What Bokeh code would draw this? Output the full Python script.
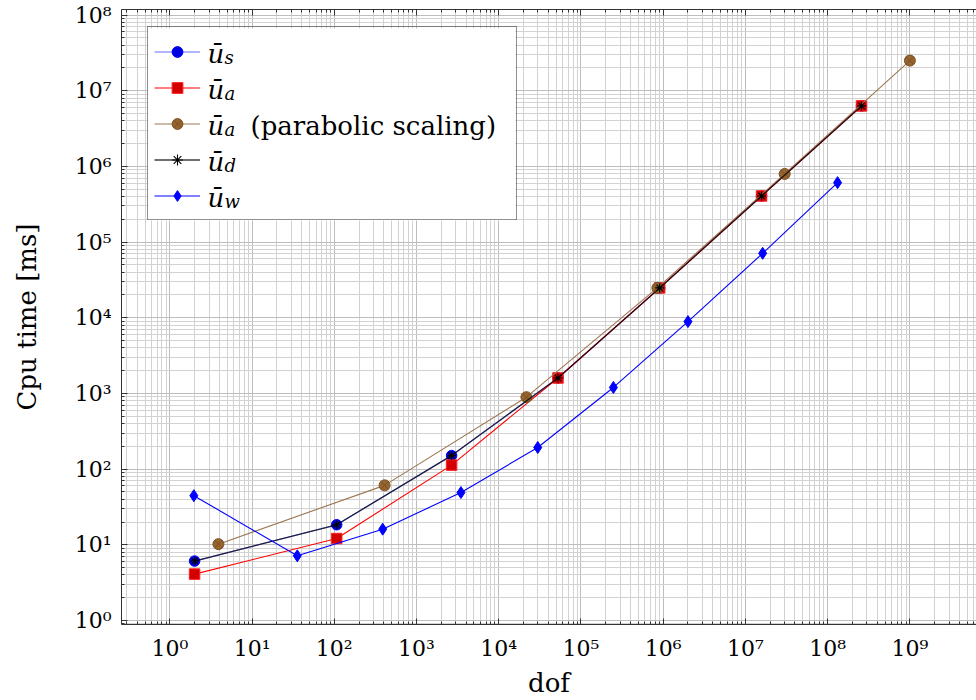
from bokeh.plotting import figure
from bokeh.models import (FixedTicker, LogAxis, Range1d, Legend, LegendItem, Label,
                          BoxAnnotation)
from bokeh.embed import file_html
from bokeh.resources import INLINE

# ---------------- data ----------------
dof_s = [2, 107, 2670, 5.25e4, 9.06e5, 1.57e7, 2.58e8]
cpu_s = [6.1, 18.4, 151, 1.6e3, 2.48e4, 4.07e5, 6.3e6]

dof_a = [2, 107, 2670, 5.25e4, 9.06e5, 1.57e7, 2.58e8]
cpu_a = [4.1, 12.1, 113, 1.6e3, 2.48e4, 4.07e5, 6.3e6]

dof_ap = [3.9, 409, 2.17e4, 8.5e5, 3.0e7, 1.0e9]
cpu_ap = [10.2, 61, 893, 2.48e4, 7.95e5, 2.5e7]

dof_d = [2, 107, 2670, 5.25e4, 9.06e5, 1.57e7, 2.58e8]
cpu_d = [6.1, 18.4, 151, 1.6e3, 2.48e4, 4.07e5, 6.3e6]

dof_w = [1.96, 35.5, 388, 3.47e3, 2.98e4, 2.48e5, 2.0e6, 1.62e7, 1.32e8]
cpu_w = [44.6, 7.15, 16.1, 49, 193, 1.2e3, 8.9e3, 7.1e4, 6.1e5]

x_exponents = list(range(0, 10))
y_exponents = list(range(0, 9))
legend_subscripts = ["s", "a", "a", "d", "w"]
legend_extra = ["", "", "(parabolic scaling)", "", ""]
x_title = "dof"
y_title = "Cpu time [ms]"

SUP = "⁰¹²³⁴⁵⁶⁷⁸⁹"
def sup_label(k):
    return "10" + "".join(SUP[int(c)] for c in str(k))

FONT = "DejaVu Serif"

# ---------------- figure ----------------
p = figure(width=976, height=700, x_axis_type="log", y_axis_type="log",
           x_range=Range1d(10 ** -0.5876, 10 ** 9.81),
           y_range=Range1d(10 ** -0.053, 10 ** 8.073),
           output_backend="svg", toolbar_location=None,
           min_border_left=121, min_border_right=0, min_border_top=9,
           min_border_bottom=76)
p.outline_line_color = None
p.background_fill_color = "white"
p.border_fill_color = "white"

x_major = [10.0 ** k for k in x_exponents]
y_major = [10.0 ** k for k in y_exponents]
x_minor = [m * 10.0 ** k for k in range(-1, 10) for m in range(2, 10)]
y_minor = [m * 10.0 ** k for k in range(-1, 9) for m in range(2, 10)]
xticker = FixedTicker(ticks=x_major, minor_ticks=x_minor)
yticker = FixedTicker(ticks=y_major, minor_ticks=y_minor)

AXC = "#333333"

def style_axis(ax):
    ax.axis_line_color = AXC
    ax.axis_line_width = 1
    ax.major_tick_line_color = AXC
    ax.minor_tick_line_color = AXC
    ax.major_tick_in = 6
    ax.major_tick_out = 0
    ax.minor_tick_in = 3
    ax.minor_tick_out = 0
    ax.major_label_text_font = FONT
    ax.major_label_text_font_size = "22px"
    ax.major_label_text_color = "black"
    ax.axis_label_text_font = FONT
    ax.axis_label_text_font_size = "26px"
    ax.axis_label_text_font_style = "normal"
    ax.axis_label_text_color = "black"

xa = p.xaxis[0]
ya = p.yaxis[0]
xa.ticker = xticker
ya.ticker = yticker
style_axis(xa)
style_axis(ya)
xa.major_label_overrides = {10.0 ** k: sup_label(k) for k in x_exponents}
ya.major_label_overrides = {10.0 ** k: sup_label(k) for k in y_exponents}
xa.axis_label = x_title
ya.axis_label = y_title
xa.major_label_standoff = 11
xa.axis_label_standoff = 4
ya.major_label_standoff = 10
ya.axis_label_standoff = 30

top_ax = LogAxis(ticker=xticker)
style_axis(top_ax)
top_ax.major_label_text_font_size = "0px"
top_ax.major_label_standoff = 0
top_ax.major_label_overrides = {10.0 ** k: "" for k in x_exponents}
p.add_layout(top_ax, "above")

for g, tk in ((p.xgrid[0], xticker), (p.ygrid[0], yticker)):
    g.ticker = tk
    g.grid_line_color = "#bdbdbd"
    g.grid_line_width = 1
    g.minor_grid_line_color = "#d2d2d2"
    g.minor_grid_line_width = 1

# white background of the legend box
LEG_X, LEG_Y, LEG_W, LEG_H = 26, 404, 368, 192
p.add_layout(BoxAnnotation(left=LEG_X, right=LEG_X + LEG_W, bottom=LEG_Y,
                           top=LEG_Y + LEG_H, left_units="screen",
                           right_units="screen", bottom_units="screen",
                           top_units="screen", fill_color="white", fill_alpha=1,
                           line_color=None, level="underlay"))

# ---------------- series ----------------
r1l = p.line(dof_s, cpu_s, line_color="#6b6bff", line_width=1.2)
r1m = p.scatter(dof_s, cpu_s, marker="circle", size=10.5, fill_color="#0000e0",
                line_color="#0000ff", line_width=1)

r2l = p.line(dof_a, cpu_a, line_color="#ff0000", line_width=1.1)
r2m = p.scatter(dof_a, cpu_a, marker="square", size=10.5, fill_color="#d40000",
                line_color="#ff2020", line_width=1)

r3l = p.line(dof_ap, cpu_ap, line_color="#9c7650", line_width=1.1)
r3m = p.scatter(dof_ap, cpu_ap, marker="circle_x", size=11, fill_color="#96642f",
                line_color="#7a5024", line_width=1)

r4l = p.line(dof_d, cpu_d, line_color="black", line_alpha=0.75, line_width=1.3)
r4m = p.scatter(dof_d, cpu_d, marker="asterisk", size=9, line_color="black",
                line_width=1.1)

r5l = p.line(dof_w, cpu_w, line_color="#0000ff", line_width=1.1)
r5m = p.scatter(dof_w, cpu_w, marker="diamond", size=12, fill_color="#0000ff",
                line_color="#0000ff", line_width=1)

items = [LegendItem(label=" ", renderers=[l, m]) for l, m in
         ((r1l, r1m), (r2l, r2m), (r3l, r3m), (r4l, r4m), (r5l, r5m))]
legend = Legend(items=items, location=(LEG_X, LEG_Y), padding=6, spacing=0, margin=0,
                glyph_width=46, glyph_height=27, label_height=36, label_width=305,
                label_standoff=5, border_line_color="#222222", border_line_width=1,
                background_fill_alpha=0, label_text_font_size="10px")
p.add_layout(legend)

# legend texts (screen units relative to the frame's bottom-left)
for k, sub in enumerate(legend_subscripts):
    ys = LEG_Y + LEG_H - 6 - 18 - 36 * k - 1
    p.add_layout(Label(x=86, y=ys, x_units="screen", y_units="screen", text="ū",
                       text_font=FONT, text_font_style="italic", text_font_size="26px",
                       text_baseline="alphabetic", text_color="black", level="overlay"))
    p.add_layout(Label(x=103, y=ys - 4, x_units="screen", y_units="screen", text=sub,
                       text_font=FONT, text_font_style="italic", text_font_size="18px",
                       text_baseline="alphabetic", text_color="black", level="overlay"))
    if legend_extra[k]:
        p.add_layout(Label(x=129, y=ys, x_units="screen", y_units="screen",
                           text=legend_extra[k], text_font=FONT, text_font_size="26px",
                           text_baseline="alphabetic", text_color="black",
                           level="overlay"))

open("out.html", "w").write(file_html(p, INLINE))
